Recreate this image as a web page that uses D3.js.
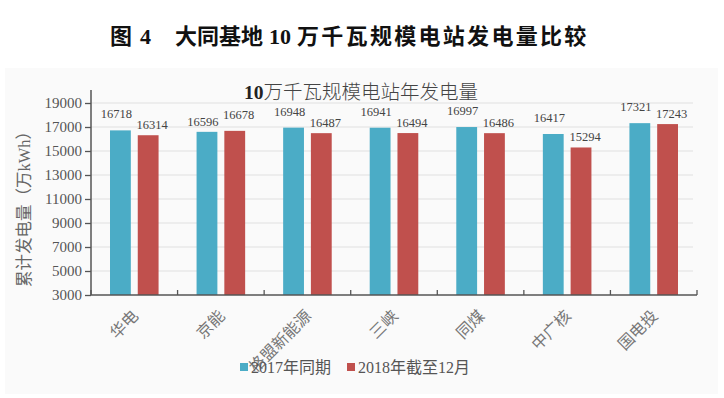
<!DOCTYPE html>
<html>
<head>
<meta charset="utf-8">
<script src="https://cdn.jsdelivr.net/npm/d3@7"></script>
<style>
  body { margin: 0; background: #fff; }
  svg { display: block; }
</style>
</head>
<body>
<div id="chart"></div>
<script>
// 大同基地 10万千瓦规模电站发电量比较
const categories = ["华电", "京能", "格盟新能源", "三峡", "同煤", "中广核", "国电投"];
const series = ["2017年同期", "2018年截至12月"];
const values2017 = [16718, 16596, 16948, 16941, 16997, 16417, 17321];
const values2018 = [16314, 16678, 16487, 16494, 16486, 15294, 17243];
const yTicks = [3000, 5000, 7000, 9000, 11000, 13000, 15000, 17000, 19000];

const width = 724, height = 398;
const colors = ["#4bacc6", "#c0504d"];
const serif = "'Liberation Serif', 'DejaVu Serif', serif";
const cjk = "'Liberation Serif', 'Noto Sans CJK SC', serif";
const hei = "'Noto Sans CJK SC', sans-serif";

const svg = d3.select("#chart").append("svg")
    .attr("width", width)
    .attr("height", height);

// figure caption, pieces placed like the printed caption
const cap = svg.append("text")
    .attr("y", 44)
    .attr("font-family", hei)
    .attr("font-weight", 700)
    .attr("font-size", 22)
    .attr("fill", "#111");
cap.append("tspan").attr("x", 110).text("图");
cap.append("tspan").attr("x", 140).attr("font-family", serif).text("4");
cap.append("tspan").attr("x", 175).text("大同基地");
cap.append("tspan").attr("x", 269).attr("font-family", serif).text("10");
cap.append("tspan").attr("x", 297).attr("letter-spacing", 2.3).text("万千瓦规模电站发电量比较");

// chart area box
svg.append("rect")
    .attr("x", 5).attr("y", 68)
    .attr("width", 713).attr("height", 326)
    .attr("fill", "#fafafa");

const plotL = 91, plotR = 697, plotT = 103, plotB = 295;

const y = d3.scaleLinear().domain([3000, 19000]).range([plotB, plotT]);
const x0 = d3.scaleBand().domain(categories).range([plotL, plotR]).paddingInner(0).paddingOuter(0);
const x1 = d3.scaleBand().domain(series).range([19, x0.bandwidth() - 19]).paddingInner(0.25);

// grid
svg.append("g")
    .selectAll("line")
    .data(yTicks.filter(d => d > 3000))
    .join("line")
    .attr("x1", plotL).attr("x2", plotR - 4)
    .attr("y1", d => y(d)).attr("y2", d => y(d))
    .attr("stroke", "#e0e0e0")
    .attr("stroke-width", 1);

// chart title
const title = svg.append("text")
    .attr("x", 361)
    .attr("y", 99)
    .attr("text-anchor", "middle")
    .attr("font-size", 19.5)
    .attr("fill", "#444");
title.append("tspan").attr("font-family", serif).attr("font-weight", 700).attr("fill", "#222").text("10");
title.append("tspan").attr("font-family", hei).attr("font-weight", 300).text("万千瓦规模电站年发电量");

// bars
const rows = categories.map((c, i) => ({ cat: c, vals: [values2017[i], values2018[i]] }));

const groups = svg.append("g")
    .selectAll("g")
    .data(rows)
    .join("g")
    .attr("transform", d => `translate(${x0(d.cat)},0)`);

groups.selectAll("rect")
    .data(d => d.vals.map((v, j) => ({ s: series[j], v: v, j: j })))
    .join("rect")
    .attr("x", d => x1(d.s))
    .attr("width", x1.bandwidth())
    .attr("y", d => y(d.v))
    .attr("height", d => plotB - y(d.v))
    .attr("fill", d => colors[d.j]);

// value labels, nudged apart like the spreadsheet did
groups.selectAll("text")
    .data(d => d.vals.map((v, j) => ({ s: series[j], v: v, j: j, other: d.vals[1 - j] })))
    .join("text")
    .attr("x", d => x1(d.s) + x1.bandwidth() / 2 + (d.j === 0 ? -4 : 4))
    .attr("y", d => {
        // the higher label of a pair gets pushed up
        let yy = y(d.v) - 6;
        if (d.v - d.other > 20) yy -= 6;
        return yy;
    })
    .attr("text-anchor", "middle")
    .attr("font-family", serif)
    .attr("font-size", 12.5)
    .attr("fill", "#444")
    .text(d => d.v);

// y axis
const yAxis = svg.append("g")
    .attr("transform", `translate(${plotL},0)`)
    .call(d3.axisLeft(y).tickValues(yTicks).tickSize(6).tickPadding(3).tickFormat(d3.format("d")));
yAxis.select(".domain").remove();
yAxis.append("line")
    .attr("x1", 0).attr("x2", 0)
    .attr("y1", 90).attr("y2", plotB)
    .attr("stroke", "#555").attr("stroke-width", 1.5);
yAxis.selectAll(".tick line").attr("stroke", "#555").attr("stroke-width", 1.3);
yAxis.selectAll(".tick text")
    .attr("font-family", serif)
    .attr("font-size", 15)
    .attr("fill", "#555");

// x axis, inward ticks at band edges
const xg = svg.append("g");
xg.append("line")
    .attr("x1", plotL).attr("x2", plotR)
    .attr("y1", plotB).attr("y2", plotB)
    .attr("stroke", "#555").attr("stroke-width", 1.5);
xg.selectAll("line.tk")
    .data(categories.map(c => x0(c)).concat([plotR]))
    .join("line")
    .attr("class", "tk")
    .attr("x1", d => d).attr("x2", d => d)
    .attr("y1", plotB).attr("y2", plotB - 5)
    .attr("stroke", "#555").attr("stroke-width", 1.3);
xg.selectAll("text")
    .data(categories)
    .join("text")
    .attr("transform", d => `translate(${x0(d) + x0.bandwidth() / 2 + 5},${plotB + 22}) rotate(-45)`)
    .attr("text-anchor", "end")
    .attr("font-family", hei)
    .attr("font-size", 16)
    .attr("fill", "#777")
    .text(d => d);

// y axis title
svg.append("text")
    .attr("transform", "translate(30,205) rotate(-90)")
    .attr("text-anchor", "middle")
    .attr("font-family", cjk)
    .attr("font-size", 16.5)
    .attr("fill", "#666")
    .text("累计发电量（万kWh）");

// legend
const legend = svg.append("g").attr("transform", "translate(240,367)");
const items = [
    { name: series[0], color: colors[0], x: 0 },
    { name: series[1], color: colors[1], x: 107 }
];
const li = legend.selectAll("g").data(items).join("g")
    .attr("transform", d => `translate(${d.x},0)`);
li.append("rect")
    .attr("x", 0).attr("y", -4)
    .attr("width", 8).attr("height", 8)
    .attr("fill", d => d.color);
li.append("text")
    .attr("x", 11).attr("y", 6)
    .attr("font-family", cjk)
    .attr("font-size", 16)
    .attr("fill", "#555")
    .text(d => d.name);
</script>
</body>
</html>
